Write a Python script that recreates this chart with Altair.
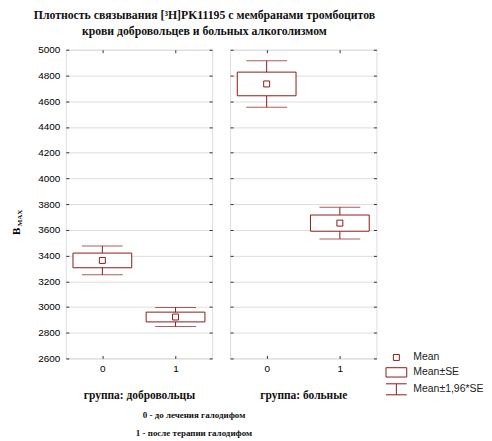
import altair as alt
import pandas as pd

# ---- data ----
group = ["группа: добровольцы", "группа: добровольцы", "группа: больные", "группа: больные"]
phase = ["0", "1", "0", "1"]
mean = [3362, 2922, 4734, 3652]
se = [57, 38, 92, 63]
y_ticks = [2600, 2800, 3000, 3200, 3400, 3600, 3800, 4000, 4200, 4400, 4600, 4800, 5000]
legend_items = ["Mean", "Mean±SE", "Mean±1,96*SE"]
title_lines = ["Плотность связывания [³H]PK11195 с мембранами тромбоцитов",
               "крови добровольцев и больных алкоголизмом"]
note_lines = ["0 - до лечения галодифом", "1 - после терапии галодифом"]

RED = "#8b1a1a"
FRAME = "#333333"
df = pd.DataFrame({"group": group, "phase": phase, "mean": mean, "se": se,
                   "kind": ["Mean"] * 4})

sym_mean = "M-0.46,-0.46H0.46V0.46H-0.46Z"
sym_box = "M-1.6,-0.72H1.6V0.72H-1.6Z"
sym_whisk = "M-1.6,-0.85H1.6M0,-0.85V0.85M-1.6,0.85H1.6"

TICK = dict(ticks=True, tickSize=3, tickColor=FRAME, tickWidth=1, offset=-3, domain=False)


def panel(g, first):
    base = alt.Chart(df).transform_filter(alt.datum.group == g).transform_calculate(
        se_lo="datum.mean - datum.se", se_hi="datum.mean + datum.se",
        ci_lo="datum.mean - 1.96*datum.se", ci_hi="datum.mean + 1.96*datum.se")
    xscale = alt.Scale(type="point", padding=0.5, domain=["0", "1"])
    xaxis = alt.Axis(title=g, labelAngle=0, grid=False, labelPadding=5, titlePadding=16,
                     titleFont="Liberation Serif", titleFontWeight="bold",
                     titleFontSize=11.5, titleColor="#111", **TICK)
    xaxis_top = alt.Axis(orient="top", title=None, labels=False, grid=False, **TICK)
    yscale = alt.Scale(domain=[2600, 5000], nice=False, zero=False)
    if first:
        yaxis = alt.Axis(values=y_ticks, tickCount=13, grid=True, labels=True, title="B",
                         format="d", labelOverlap=False, titleX=-52, titleY=182,
                         titleAlign="center", titleBaseline="middle", titleAngle=270,
                         titleFontSize=11, titleFont="Liberation Serif", labelPadding=6,
                         **TICK)
    else:
        yaxis = alt.Axis(values=y_ticks, tickCount=13, grid=True, labels=False, title=None,
                         labelOverlap=False, **TICK)
    yaxis_right = alt.Axis(orient="right", values=y_ticks, tickCount=13, grid=False,
                           labels=False, title=None, **TICK)

    X0 = alt.X("phase:N", scale=xscale, axis=None)

    def Y0(f):
        return alt.Y(f, scale=yscale, axis=None)

    stem = base.mark_rule(color=RED, strokeWidth=1).encode(
        x=alt.X("phase:N", scale=xscale, axis=xaxis),
        y=alt.Y("ci_lo:Q", scale=yscale, axis=yaxis), y2="ci_hi:Q")
    frame_axes = base.mark_point(opacity=0).encode(
        x=alt.X("phase:N", scale=xscale, axis=xaxis_top),
        y=alt.Y("mean:Q", scale=yscale, axis=yaxis_right))
    cap_lo = base.mark_tick(color=RED, size=41, thickness=1).encode(x=X0, y=Y0("ci_lo:Q"))
    cap_hi = base.mark_tick(color=RED, size=41, thickness=1).encode(x=X0, y=Y0("ci_hi:Q"))
    box = base.mark_bar(size=59, fill="white", stroke=RED, strokeWidth=1).encode(
        x=X0, y=Y0("se_lo:Q"), y2="se_hi:Q")
    if first:
        leg = alt.Legend(orient="none", legendX=325, legendY=302, title=None,
                         symbolSize=169, labelOffset=10, rowPadding=2, padding=0,
                         labelFont="Liberation Sans", labelFontSize=10.5, labelColor="#222",
                         symbolOpacity=1, symbolStrokeWidth=1, symbolStrokeColor=RED)
        pt = base.mark_point(size=169, filled=False, fill="white", strokeWidth=1,
                             opacity=1).encode(
            x=X0, y=Y0("mean:Q"),
            shape=alt.Shape("kind:N",
                            scale=alt.Scale(domain=legend_items,
                                            range=[sym_mean, sym_box, sym_whisk]),
                            legend=leg),
            color=alt.Color("kind:N",
                            scale=alt.Scale(domain=legend_items, range=[RED, RED, RED]),
                            legend=leg))
        sub = alt.Chart(pd.DataFrame({"t": ["MAX"]})).mark_text(
            angle=270, font="Liberation Serif", fontSize=7, fontWeight="bold",
            align="center", baseline="middle", color="#111").encode(
            x=alt.value(-46), y=alt.value(169), text="t:N")
        layers = [stem, frame_axes, cap_lo, cap_hi, box, pt, sub]
    else:
        pt = base.mark_point(size=169, filled=False, color=RED, fill="white",
                             strokeWidth=1, opacity=1, shape=sym_mean).encode(
            x=X0, y=Y0("mean:Q"))
        layers = [stem, frame_axes, cap_lo, cap_hi, box, pt]
    return alt.layer(*layers).resolve_axis(x="independent", y="independent").properties(
        width=147, height=310)


inner = alt.hconcat(panel("группа: добровольцы", True), panel("группа: больные", False),
                    spacing=16).properties(
    title=alt.TitleParams(note_lines, orient="bottom", anchor="middle", font="Liberation Serif",
                          fontSize=9, fontWeight="bold", color="#111", dx=0,
                          lineHeight=18, offset=9.5))

chart = alt.vconcat(inner).properties(
    padding={"left": 2, "top": 0, "right": 0, "bottom": 0},
    title=alt.TitleParams(title_lines, anchor="middle", font="Liberation Serif", fontSize=11.8,
                          fontWeight="bold", color="#111", lineHeight=17, dx=-43, offset=6)
).configure_view(stroke=FRAME, strokeWidth=1).configure_axis(
    labelFont="Liberation Sans", labelFontSize=11, labelColor="#222",
    titleFont="Liberation Serif", titleFontWeight="bold", titleFontSize=10, titleColor="#111",
    domain=False, ticks=False, gridColor="#b5b5b5", gridDash=[2, 2], gridWidth=1
).configure(background="white")

chart.save("out.html", embed_options={"renderer": "svg", "actions": False})
